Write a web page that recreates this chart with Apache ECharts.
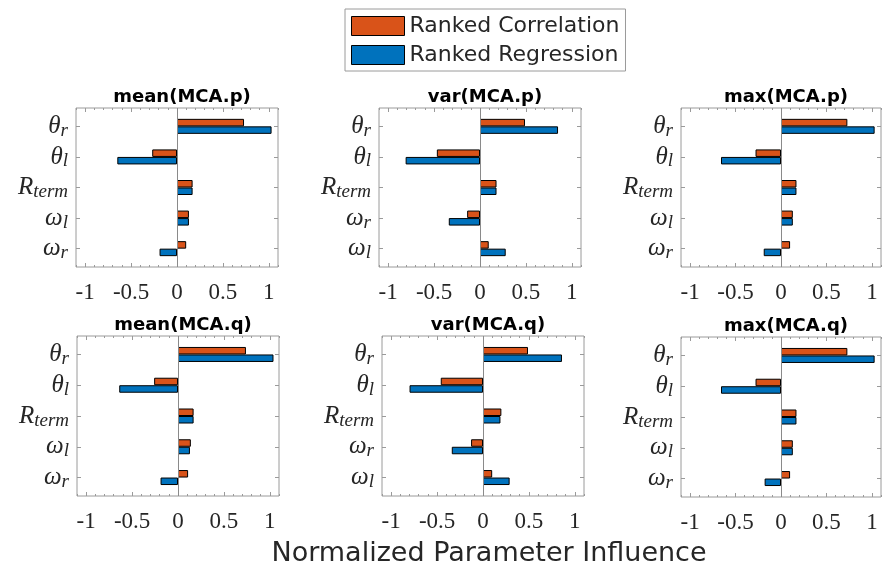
<!DOCTYPE html>
<html>
<head>
<meta charset="utf-8">
<script src="https://cdn.jsdelivr.net/npm/echarts@6/dist/echarts.min.js"></script>
<style>html,body{margin:0;padding:0;background:#fff;}#c{width:883px;height:565px;}</style>
</head>
<body>
<div id="c"></div>
<script>
// Category tick labels (symbol_subscript)
const labelsA = ['θ_r', 'θ_l', 'R_term', 'ω_l', 'ω_r'];
const labelsB = ['θ_r', 'θ_l', 'R_term', 'ω_r', 'ω_l'];
const xTicks = [-1, -0.5, 0, 0.5, 1];
const xMinor = [-1.1, -0.9, -0.8, -0.7, -0.6, -0.4, -0.3, -0.2, -0.1, 0.1, 0.2, 0.3, 0.4, 0.6, 0.7, 0.8, 0.9, 1.1];
const panelTitles = ['mean(MCA.p)', 'var(MCA.p)', 'max(MCA.p)', 'mean(MCA.q)', 'var(MCA.q)', 'max(MCA.q)'];
const seriesNames = ['Ranked Correlation', 'Ranked Regression'];
const xTitle = 'Normalized Parameter Influence';

// Values
const corrMeanP = [0.73, -0.27, 0.17, 0.13, 0.10];
const regMeanP  = [1.03, -0.65, 0.17, 0.13, -0.19];
const corrVarP  = [0.49, -0.47, 0.18, -0.14, 0.095];
const regVarP   = [0.85, -0.81, 0.18, -0.34, 0.28];
const corrMaxP  = [0.73, -0.28, 0.17, 0.13, 0.10];
const regMaxP   = [1.03, -0.66, 0.17, 0.13, -0.19];
const corrMeanQ = [0.74, -0.26, 0.17, 0.14, 0.11];
const regMeanQ  = [1.04, -0.64, 0.17, 0.13, -0.19];
const corrVarQ  = [0.49, -0.46, 0.20, -0.13, 0.10];
const regVarQ   = [0.86, -0.80, 0.19, -0.34, 0.29];
const corrMaxQ  = [0.73, -0.28, 0.17, 0.13, 0.10];
const regMaxQ   = [1.03, -0.66, 0.17, 0.13, -0.18];

const panels = [
  {corr: corrMeanP, reg: regMeanP, labels: labelsA},
  {corr: corrVarP,  reg: regVarP,  labels: labelsB},
  {corr: corrMaxP,  reg: regMaxP,  labels: labelsA},
  {corr: corrMeanQ, reg: regMeanQ, labels: labelsA},
  {corr: corrVarQ,  reg: regVarQ,  labels: labelsB},
  {corr: corrMaxQ,  reg: regMaxQ,  labels: labelsA}
];

const gridBoxes = [
  {left: 76,  top: 108, width: 202, height: 159},
  {left: 379, top: 108, width: 202, height: 159},
  {left: 681, top: 108, width: 200, height: 159},
  {left: 77,  top: 336, width: 202, height: 160},
  {left: 382, top: 336, width: 202, height: 160},
  {left: 681, top: 337, width: 200, height: 160}
];

const AX = '#9a9a9a';
const TXT = '#262626';
const ORANGE = '#D95319';
const BLUE = '#0072BD';

const option = {
  animation: false,
  backgroundColor: '#fff',
  title: [],
  legend: {
    data: seriesNames,
    orient: 'vertical',
    left: 345, top: 9,
    padding: [6, 6, 5, 6],
    itemGap: 7,
    itemWidth: 53, itemHeight: 19,
    icon: 'rect',
    borderColor: AX, borderWidth: 1,
    itemStyle: {borderColor: '#000', borderWidth: 1},
    textStyle: {fontFamily: 'DejaVu Sans', fontSize: 22, color: TXT}
  },
  grid: [], xAxis: [], yAxis: [], series: []
};

const rich = {
  m: {fontFamily: 'Liberation Serif', fontStyle: 'italic', fontSize: 25, color: TXT},
  s: {fontFamily: 'Liberation Serif', fontStyle: 'italic', fontSize: 19, color: TXT, padding: [9, 0, 0, 0]}
};

panels.forEach((p, i) => {
  const g = gridBoxes[i];
  // outer box grid (MATLAB ylim 0.4..5.6)
  const outer = option.grid.length;
  option.grid.push({left: g.left, top: g.top, width: g.width, height: g.height,
    show: true, borderColor: AX, borderWidth: 1, backgroundColor: 'transparent'});
  // inner grid for bars: 5 bands of height h/5.2
  const band = g.height / 5.2;
  const inner = option.grid.length;
  option.grid.push({left: g.left, top: g.top + 0.1 * band, width: g.width, height: 5 * band});

  option.title.push({
    text: panelTitles[i],
    left: g.left + g.width / 2, top: g.top - 25,
    textAlign: 'center',
    textStyle: {fontFamily: 'DejaVu Sans', fontWeight: 'bold', fontSize: 18, color: '#000'}
  });

  // outer x axes
  option.xAxis.push({
    gridIndex: outer, type: 'value', position: 'bottom', min: -1.1, max: 1.1,
    axisLine: {show: false, onZero: false},
    axisTick: {show: true, inside: true, length: 4, customValues: xTicks, lineStyle: {color: AX}},
    axisLabel: {show: true, customValues: xTicks, margin: 14, fontFamily: 'Liberation Serif', fontSize: 23, color: TXT,
      formatter: v => String(v)},
    splitLine: {show: false}
  });
  option.xAxis.push({
    gridIndex: outer, type: 'value', position: 'top', min: -1.1, max: 1.1,
    axisLine: {show: false, onZero: false},
    axisTick: {show: true, inside: true, length: 4, customValues: xTicks, lineStyle: {color: AX}},
    axisLabel: {show: false}, splitLine: {show: false}
  });
  ['bottom', 'top'].forEach(pos => {
    option.xAxis.push({
      gridIndex: outer, type: 'value', position: pos, min: -1.1, max: 1.1,
      axisLine: {show: false, onZero: false},
      axisTick: {show: true, inside: true, length: 2, customValues: xMinor, lineStyle: {color: AX}},
      axisLabel: {show: false}, splitLine: {show: false}
    });
  });
  option.yAxis.push({
    gridIndex: outer, type: 'value', min: 0, max: 1, show: false
  });

  // inner axes
  const xb = option.xAxis.length;
  option.xAxis.push({
    gridIndex: inner, type: 'value', min: -1.1, max: 1.1, show: false
  });
  const yb = option.yAxis.length;
  option.yAxis.push({
    gridIndex: inner, type: 'category', data: p.labels, inverse: true, position: 'left',
    axisLine: {show: false, onZero: false},
    axisTick: {show: true, inside: true, length: 4, alignWithLabel: true, lineStyle: {color: AX}},
    axisLabel: {show: true, margin: 8, rich: rich,
      formatter: v => { const parts = v.split('_'); return '{m|' + parts[0] + '}{s|' + parts[1] + '}'; }}
  });
  option.yAxis.push({
    gridIndex: inner, type: 'category', data: p.labels, inverse: true, position: 'right',
    axisLine: {show: false, onZero: false},
    axisTick: {show: true, inside: true, length: 4, alignWithLabel: true, lineStyle: {color: AX}},
    axisLabel: {show: false}
  });
  option.series.push({
    name: seriesNames[0], type: 'bar', xAxisIndex: xb, yAxisIndex: yb,
    data: p.corr, barWidth: 7.5, barGap: '0%',
    itemStyle: {color: ORANGE, borderColor: '#000', borderWidth: 1}
  });
  option.series.push({
    name: seriesNames[1], type: 'bar', xAxisIndex: xb, yAxisIndex: yb,
    data: p.reg, barWidth: 7.5, barGap: '0%',
    itemStyle: {color: BLUE, borderColor: '#000', borderWidth: 1}
  });
  // zero baseline across the full box
  option.series.push({
    type: 'line', xAxisIndex: xb - 4, yAxisIndex: yb - 1, silent: true,
    data: [], symbol: 'none',
    markLine: {silent: true, symbol: 'none', label: {show: false},
      lineStyle: {color: '#8a8a8a', type: 'solid', width: 1}, data: [{xAxis: 0}]}
  });
});

option.title.push({
  text: xTitle, left: 484, top: 535, textAlign: 'center',
  textStyle: {fontFamily: 'DejaVu Sans', fontWeight: 'normal', fontSize: 27, color: TXT}
});

const chart = echarts.init(document.getElementById('c'), null, {renderer: 'canvas'});
chart.setOption(option);
</script>
</body>
</html>
